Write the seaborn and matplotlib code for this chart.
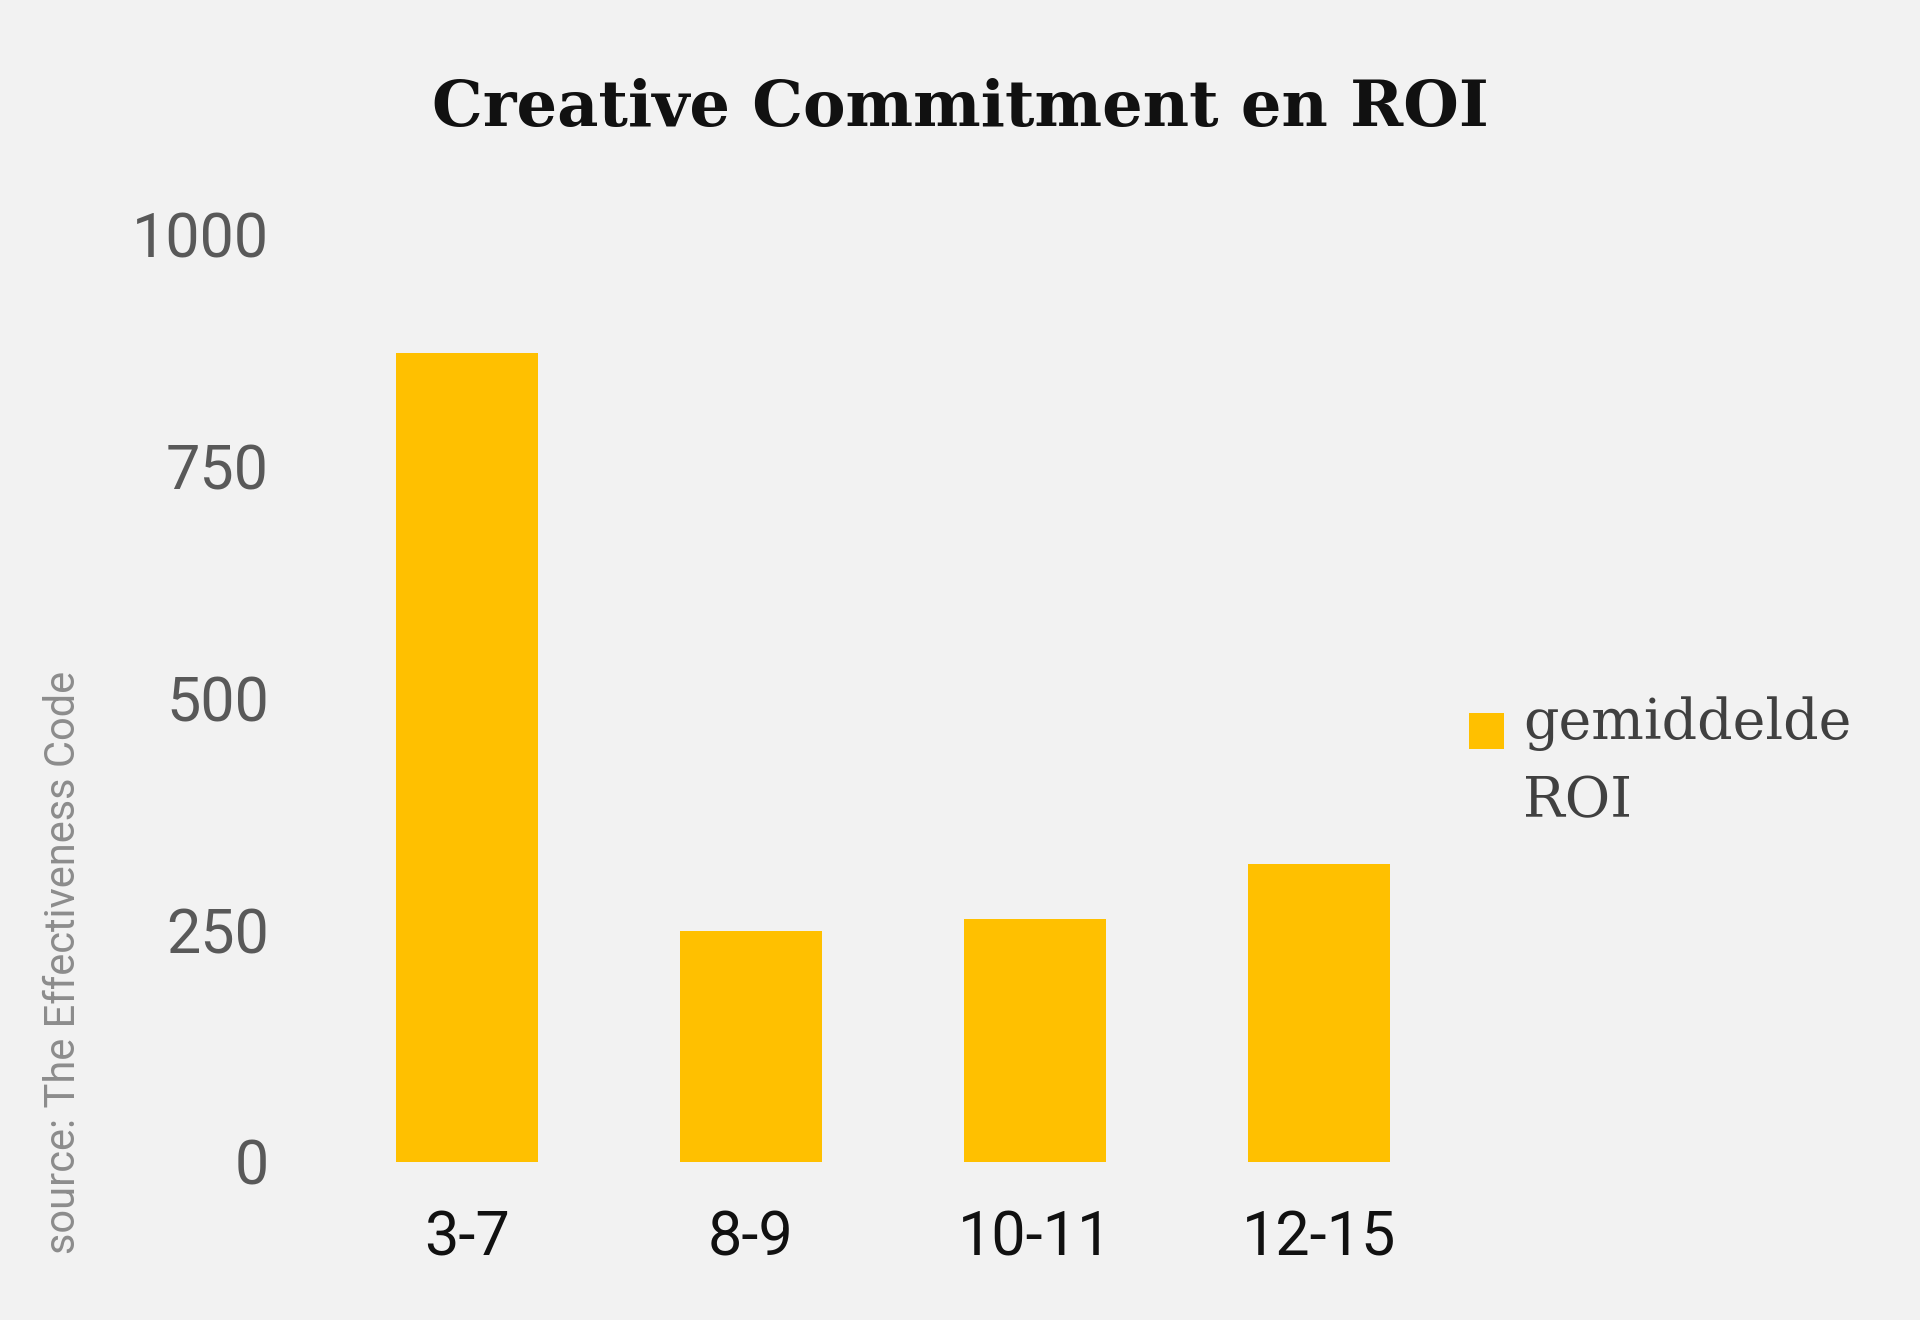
import pandas as pd
import matplotlib.pyplot as plt
import seaborn as sns

groups = ['3-7', '8-9', '10-11', '12-15']
avg_roi = [872, 249, 262, 321]
y_ticks = [0, 250, 500, 750, 1000]
series_name = 'gemiddelde\nROI'

BG = '#f2f2f2'
BAR = '#ffc000'

sns.set_theme(style='white')
plt.rcParams['font.family'] = ['Roboto', 'DejaVu Sans']

df = pd.DataFrame({'group': groups, 'roi': avg_roi, 'series': series_name})

fig = plt.figure(figsize=(19.2, 13.2), dpi=100, facecolor=BG)
ax = fig.add_axes([0.169, 0.1197, 0.592, 0.703])
ax.set_facecolor(BG)

sns.barplot(data=df, x='group', y='roi', hue='series', palette=[BAR],
            width=0.5, saturation=1, linewidth=0, ax=ax)

ax.set_ylim(0, 1000)
ax.set_xlim(-0.5, 3.5)
ax.set_yticks(y_ticks)
ax.set_xlabel('')
ax.set_ylabel('')
sns.despine(ax=ax, left=True, bottom=True)
ax.tick_params(axis='y', length=0, pad=40, labelsize=44, labelcolor='#595959')
ax.tick_params(axis='x', length=0, pad=34, labelsize=44, labelcolor='#111111')

# legend: square next to the first line of the two-line label
leg = ax.legend(loc='center left', bbox_to_anchor=(1.0, 0.43), frameon=False,
                borderaxespad=0, borderpad=0.15,
                handlelength=0.62, handleheight=0.62, handletextpad=0.35,
                prop={'family': 'DejaVu Serif', 'size': 40})
for t in leg.get_texts():
    t.set_color('#404040')
    t.set_linespacing(1.55)
h = leg.legend_handles[0]
h.set_y(h.get_y() + 24)

fig.text(0.5, 0.918, 'Creative Commitment en ROI', ha='center', va='center',
         fontsize=46, fontweight='bold', family='DejaVu Serif', color='#111111')
fig.text(0.033, 0.271, 'source: The Effectiveness Code', rotation=90,
         ha='center', va='center', fontsize=30, color='#8c8c8c')

fig.savefig('out.png', dpi=100, facecolor=BG)
